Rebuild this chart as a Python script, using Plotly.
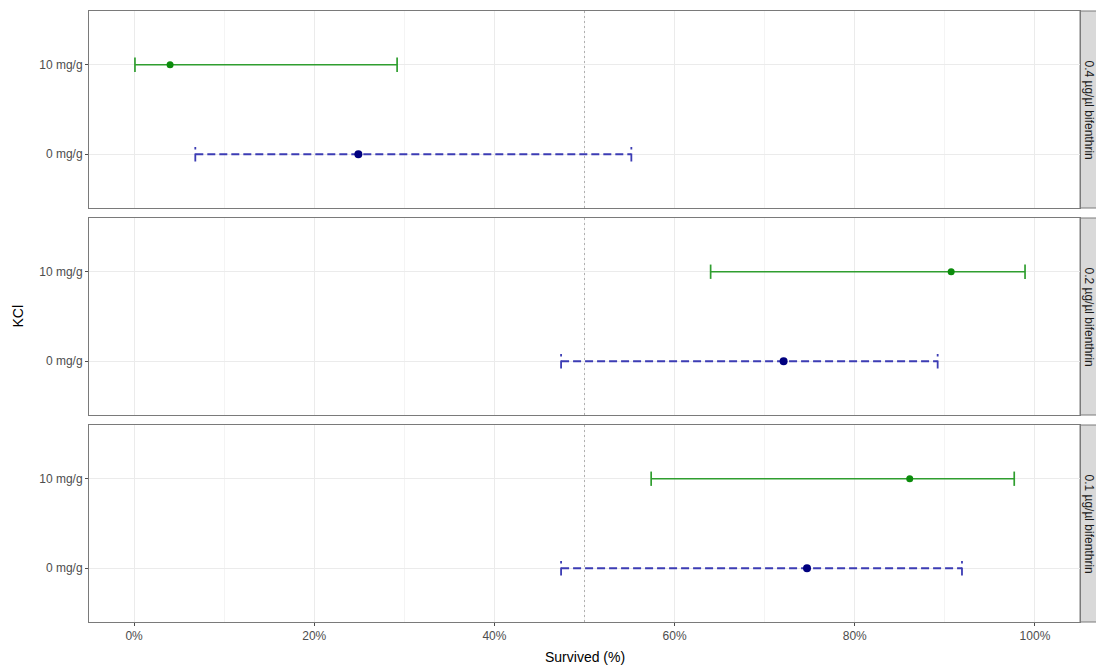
import plotly.graph_objects as go
from plotly.subplots import make_subplots

# ---------------- data ----------------
panels = ["0.4 µg/µl bifenthrin", "0.2 µg/µl bifenthrin", "0.1 µg/µl bifenthrin"]
doses = ["0 mg/g", "10 mg/g"]

est_10 = [4.0, 90.7, 86.1]
lo_10 = [0.1, 64.0, 57.4]
hi_10 = [29.2, 98.9, 97.7]

est_0 = [24.9, 72.1, 74.7]
lo_0 = [6.8, 47.4, 47.4]
hi_0 = [55.2, 89.2, 91.9]

x_ticks = [0, 20, 40, 60, 80, 100]
ref_line = 50

# ---------------- layout constants ----------------
W, H = 1096, 666
ML, MR, MT, MB = 89, 16, 11, 44
PW, PH = W - ML - MR, H - MT - MB
CAP = 0.08
Y_RANGE = [0.4, 2.6]
FONT = "Liberation Sans, Arial, sans-serif"

GREEN_LINE = "#2f9e2f"
GREEN_PT = "#0c8c0c"
BLUE_LINE = "#3c3cb4"
BLUE_PT = "#00007f"

fig = make_subplots(rows=3, cols=1, shared_xaxes=True, vertical_spacing=10 / PH)


def bar_path(lo, hi, yv):
    xs = [lo, lo, None, lo, hi, None, hi, hi]
    ys = [yv - CAP, yv + CAP, None, yv, yv, None, yv - CAP, yv + CAP]
    return xs, ys


for i, name in enumerate(panels):
    r = i + 1
    y_ctrl = doses.index("0 mg/g") + 1
    y_trt = doses.index("10 mg/g") + 1

    # reference line at 50 %
    fig.add_trace(go.Scatter(x=[ref_line, ref_line], y=Y_RANGE, mode="lines",
                             line=dict(color="#b0b0b0", width=1, dash="2px,3px"),
                             hoverinfo="skip", showlegend=False), row=r, col=1)

    xs, ys = bar_path(lo_0[i], hi_0[i], y_ctrl)
    fig.add_trace(go.Scatter(x=xs, y=ys, mode="lines", connectgaps=False,
                             line=dict(color=BLUE_LINE, width=1.8, dash="8px,4px"),
                             hoverinfo="skip", showlegend=False), row=r, col=1)
    fig.add_trace(go.Scatter(x=[est_0[i]], y=[y_ctrl], mode="markers",
                             marker=dict(color=BLUE_PT, size=8),
                             showlegend=False), row=r, col=1)

    xs, ys = bar_path(lo_10[i], hi_10[i], y_trt)
    fig.add_trace(go.Scatter(x=xs, y=ys, mode="lines", connectgaps=False,
                             line=dict(color=GREEN_LINE, width=1.7),
                             hoverinfo="skip", showlegend=False), row=r, col=1)
    fig.add_trace(go.Scatter(x=[est_10[i]], y=[y_trt], mode="markers",
                             marker=dict(color=GREEN_PT, size=7),
                             showlegend=False), row=r, col=1)

    fig.update_yaxes(row=r, col=1, range=Y_RANGE,
                     tickvals=[1, 2], ticktext=doses)

fig.update_xaxes(range=[-5, 105], tickvals=x_ticks,
                 ticktext=[f"{v}%" for v in x_ticks],
                 showgrid=True, gridcolor="#ebebeb", gridwidth=1,
                 minor=dict(dtick=10, tick0=0, showgrid=True, gridcolor="#f4f4f4", gridwidth=0.6),
                 showline=True, mirror=True, linecolor="#7a7a7a", linewidth=1,
                 ticks="", zeroline=False)
fig.update_xaxes(row=3, col=1, ticks="outside", ticklen=3, tickcolor="#4d4d4d", tickwidth=1,
                 tickfont=dict(family=FONT, size=12, color="#4d4d4d"))
fig.update_yaxes(showgrid=True, gridcolor="#ebebeb", gridwidth=1,
                 showline=True, mirror=True, linecolor="#7a7a7a", linewidth=1,
                 ticks="outside", ticklen=3, tickcolor="#4d4d4d", tickwidth=1,
                 tickfont=dict(family=FONT, size=12, color="#4d4d4d"),
                 zeroline=False)

shapes = []
annotations = []
for i, name in enumerate(panels):
    ax = fig.layout["yaxis" if i == 0 else f"yaxis{i+1}"]
    d0, d1 = ax.domain
    shapes.append(dict(type="rect", xref="paper", yref="paper",
                       x0=1.0, x1=1.0 + 22 / PW, y0=d0, y1=d1,
                       fillcolor="#d9d9d9", line=dict(color="#7a7a7a", width=1),
                       layer="below"))
    annotations.append(dict(text=name, xref="paper", yref="paper",
                            x=1.0 + 9 / PW, y=(d0 + d1) / 2, showarrow=False,
                            textangle=90, xanchor="center", yanchor="middle",
                            font=dict(family=FONT, size=12, color="#1a1a1a")))

annotations.append(dict(text="Survived (%)", xref="paper", yref="paper",
                        x=0.5, y=-(657 - (H - MB)) / PH, showarrow=False,
                        xanchor="center", yanchor="middle",
                        font=dict(family=FONT, size=14, color="#000000")))
annotations.append(dict(text="KCl", xref="paper", yref="paper",
                        x=-(ML - 17) / PW, y=0.5, showarrow=False, textangle=-90,
                        xanchor="center", yanchor="middle",
                        font=dict(family=FONT, size=14, color="#000000")))

fig.update_layout(width=W, height=H, margin=dict(l=ML, r=MR, t=MT, b=MB),
                  paper_bgcolor="white", plot_bgcolor="white",
                  shapes=shapes, annotations=annotations, showlegend=False)

fig.write_html("out.html")
